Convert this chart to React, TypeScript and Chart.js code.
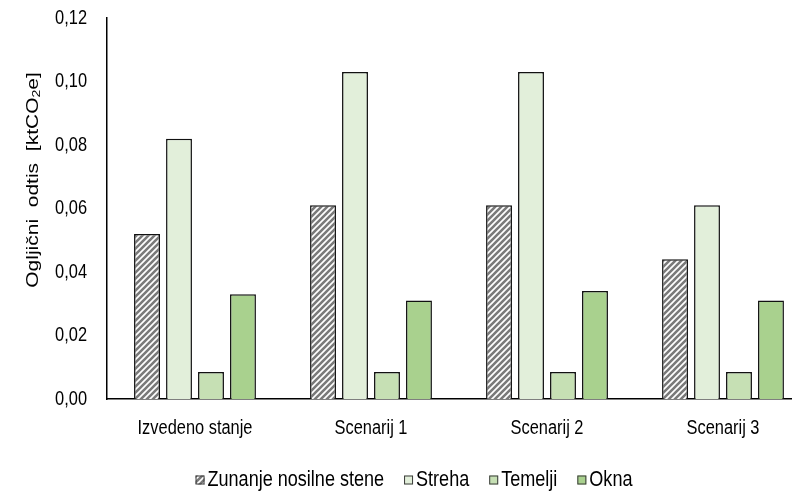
import { useEffect, useRef } from 'react';
import { Chart, registerables } from 'chart.js';

Chart.register(...registerables);

// Data
const categories = ['Izvedeno stanje', 'Scenarij 1', 'Scenarij 2', 'Scenarij 3'];
const seriesNames = ['Zunanje nosilne stene', 'Streha', 'Temelji', 'Okna'];
const zunanjeNosilneStene = [0.052, 0.061, 0.061, 0.044];
const streha = [0.082, 0.103, 0.103, 0.061];
const temelji = [0.0085, 0.0085, 0.0085, 0.0085];
const okna = [0.033, 0.031, 0.034, 0.031];
const yTicks = [0, 0.02, 0.04, 0.06, 0.08, 0.1, 0.12];
const yMin = 0;
const yMax = 0.12;

const FONT = '"Liberation Sans", Arial, sans-serif';
const SX = 0.82; // horizontal squeeze of all lettering
const FILLS = ['#e2efda', '#c6e0b4', '#a9d18e'];

function makeHatch(): CanvasPattern | string {
  const c = document.createElement('canvas');
  c.width = 6;
  c.height = 6;
  const g = c.getContext('2d');
  if (!g) return '#888';
  g.fillStyle = '#ffffff';
  g.fillRect(0, 0, 6, 6);
  g.strokeStyle = '#7a7a7a';
  g.lineWidth = 2.6;
  g.beginPath();
  g.moveTo(-2, 8); g.lineTo(8, -2);
  g.moveTo(-5, 5); g.lineTo(5, -5);
  g.moveTo(1, 11); g.lineTo(11, 1);
  g.stroke();
  const p = g.createPattern(c, 'repeat');
  return p || '#888';
}

const fmt = (v: number) => v.toFixed(2).replace('.', ',');

function drawText(
  ctx: CanvasRenderingContext2D,
  text: string,
  x: number,
  y: number,
  size: number,
  align: CanvasTextAlign,
) {
  ctx.save();
  ctx.translate(x, y);
  ctx.scale(SX, 1);
  ctx.font = `${size}px ${FONT}`;
  ctx.fillStyle = '#000';
  ctx.textAlign = align;
  ctx.textBaseline = 'middle';
  ctx.fillText(text, 0, 0);
  ctx.restore();
}

export default function App() {
  const ref = useRef<HTMLCanvasElement | null>(null);

  useEffect(() => {
    if (!ref.current) return;
    const hatch = makeHatch();
    const fills: (CanvasPattern | string)[] = [hatch, ...FILLS];
    const values = [zunanjeNosilneStene, streha, temelji, okna];

    const lettering = {
      id: 'lettering',
      afterDraw(chart: any) {
        const ctx = chart.ctx as CanvasRenderingContext2D;
        const xs = chart.scales.x;
        const ys = chart.scales.y;

        // value axis labels
        yTicks.forEach((v) => drawText(ctx, fmt(v), 87, ys.getPixelForValue(v), 20, 'right'));

        // category labels
        categories.forEach((c, i) => drawText(ctx, c, xs.getPixelForTick(i), 428, 20, 'center'));

        // rotated axis title with subscript
        const tSize = 21;
        ctx.save();
        ctx.translate(33, 180);
        ctx.scale(SX, 1);
        ctx.rotate(-Math.PI / 2);
        ctx.fillStyle = '#000';
        ctx.textBaseline = 'middle';
        ctx.textAlign = 'left';
        const main = 'Ogljični  odtis  [ktCO';
        const sub = '2';
        const tail = 'e]';
        ctx.font = `${tSize}px ${FONT}`;
        const w1 = ctx.measureText(main).width;
        const w3 = ctx.measureText(tail).width;
        ctx.font = `14px ${FONT}`;
        const w2 = ctx.measureText(sub).width;
        let x = -(w1 + w2 + w3) / 2;
        ctx.font = `${tSize}px ${FONT}`;
        ctx.fillText(main, x, 0);
        x += w1;
        ctx.font = `14px ${FONT}`;
        ctx.fillText(sub, x, 5);
        x += w2;
        ctx.font = `${tSize}px ${FONT}`;
        ctx.fillText(tail, x, 0);
        ctx.restore();

        // legend
        const size = 22;
        ctx.save();
        ctx.font = `${size}px ${FONT}`;
        const box = 9;
        const gap = 3;
        const spacing = 20;
        const widths = seriesNames.map((n) => box + gap + ctx.measureText(n).width * SX);
        ctx.restore();
        const total = widths.reduce((a, b) => a + b, 0) + spacing * (seriesNames.length - 1);
        let lx = 414 - total / 2;
        const ly = 480;
        seriesNames.forEach((name, i) => {
          ctx.save();
          ctx.fillStyle = fills[i] as any;
          ctx.fillRect(lx, ly - box / 2, box, box);
          ctx.strokeStyle = '#3a3a3a';
          ctx.lineWidth = 1;
          ctx.strokeRect(lx + 0.5, ly - box / 2 + 0.5, box - 1, box - 1);
          ctx.restore();
          drawText(ctx, name, lx + box + gap, ly, size, 'left');
          lx += widths[i] + spacing;
        });
      },
    };

    const chart = new Chart(ref.current, {
      type: 'bar',
      data: {
        labels: categories,
        datasets: seriesNames.map((name, i) => ({
          label: name,
          data: values[i],
          backgroundColor: fills[i] as any,
          borderColor: '#111111',
          borderWidth: 1.5,
          categoryPercentage: 0.727,
          barPercentage: 0.81,
        })),
      },
      options: {
        responsive: false,
        animation: false,
        devicePixelRatio: 1,
        layout: { padding: { top: 18, right: 1, bottom: 54, left: 0 } },
        plugins: {
          legend: { display: false },
          tooltip: { enabled: false },
        },
        scales: {
          x: {
            grid: { display: false, drawTicks: false },
            border: { display: true, color: '#000', width: 1.5 },
            ticks: { display: false, autoSkip: false },
            afterFit: (s: any) => {
              s.height = 40;
            },
          },
          y: {
            min: yMin,
            max: yMax,
            grid: { display: false, drawTicks: false },
            border: { display: true, color: '#000', width: 1.5 },
            ticks: { display: false, stepSize: 0.02 },
            afterFit: (s: any) => {
              s.width = 107;
            },
          },
        },
      },
      plugins: [lettering],
    });
    return () => chart.destroy();
  }, []);

  return (
    <div
      style={{
        position: 'fixed',
        left: 0,
        top: 0,
        width: 792,
        height: 493,
        overflow: 'hidden',
        background: '#fff',
      }}
    >
      <canvas ref={ref} width={812} height={493} style={{ display: 'block' }} />
    </div>
  );
}
